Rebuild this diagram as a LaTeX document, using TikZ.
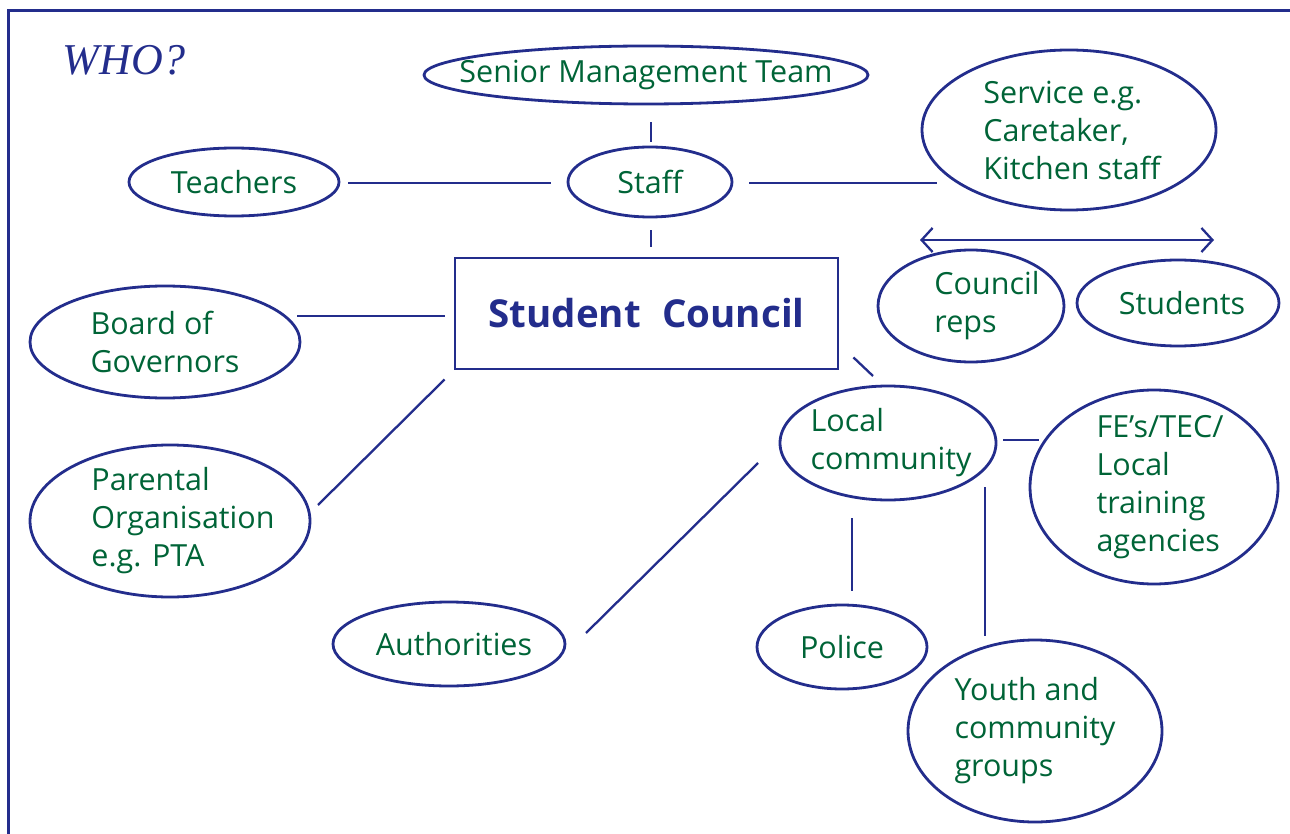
\documentclass[tikz,border=0pt]{standalone}
\usepackage{fontspec}
\setmainfont{Open Sans}
\newfontfamily\whofont{Liberation Serif}
\usetikzlibrary{shapes.geometric,calc,arrows.meta}
\definecolor{lineblue}{RGB}{35,45,140}
\definecolor{txtgreen}{RGB}{0,100,55}
\begin{document}
\begin{tikzpicture}[x=1pt,y=-1pt,
  ell/.style={ellipse,draw=lineblue,line width=2.8pt,inner sep=0pt},
  tx/.style={text=txtgreen,font=\fontsize{30.5}{38}\selectfont,align=left,inner sep=0pt},
  conn/.style={draw=lineblue,line width=2.3pt},
  barb/.tip={Straight Barb[length=11pt,width=24pt,line width=2.3pt]}]
\useasboundingbox (0,0) rectangle (1290,834);
\draw[lineblue,line width=3pt] (8,834) -- (8,11) -- (1290,11);
\node[text=lineblue,font=\whofont\itshape\fontsize{44}{50}\selectfont] (who) at (124,60) {WHO?};
% nodes
\node[ell,minimum width=444,minimum height=58,label={[tx]center:Senior Management Team}] (smt) at (646,75) {};
\node[ell,minimum width=164,minimum height=70,label={[tx]center:Staff}] (staff) at (650,182) {};
\node[ell,minimum width=210,minimum height=68,label={[tx]center:Teachers}] (teachers) at (234,182) {};
\node[ell,minimum width=294,minimum height=160,label={[tx,xshift=3pt]center:{Service e.g.\\Caretaker,\\Kitchen staff}}] (service) at (1069,130) {};
\node[draw=lineblue,line width=2.8pt,minimum width=383,minimum height=111,inner sep=0pt,
  text=lineblue,font=\bfseries\fontsize{38.5}{42}\selectfont] (council) at (646.5,313.5) {Student\hspace{0.3em} Council};
\node[ell,minimum width=270,minimum height=112,label={[tx]center:{Board of\\Governors}}] (board) at (165,342) {};
\node[ell,minimum width=186,minimum height=112,label={[tx,xshift=16pt]center:{Council\\reps}}] (reps) at (971,306) {};
\node[ell,minimum width=202,minimum height=86,label={[tx,xshift=4pt]center:Students}] (students) at (1178,303) {};
\node[ell,minimum width=216,minimum height=114,label={[tx,xshift=3pt]center:{Local\\community}}] (local) at (888,443) {};
\node[ell,minimum width=248,minimum height=194,label={[tx,xshift=6pt]center:{FE's/TEC/\\Local\\training\\agencies}}] (fe) at (1154,487) {};
\node[ell,minimum width=280,minimum height=152,label={[tx,xshift=13pt]center:{Parental\\Organisation\\e.g. PTA}}] (parental) at (170,521) {};
\node[ell,minimum width=232,minimum height=84,label={[tx,xshift=5pt]center:Authorities}] (authorities) at (449,644) {};
\node[ell,minimum width=170,minimum height=84,label={[tx]center:Police}] (police) at (842,647) {};
\node[ell,minimum width=254,minimum height=182,label={[tx]center:{Youth and\\community\\groups}}] (youth) at (1035,731) {};
% arrow
\coordinate (al) at (920,240);
\coordinate (ar) at (1214,240);
\draw[conn,{barb}-{barb}] (al) -- (ar);
% connectors
\draw[conn] ($(smt.south)+(5,17)$) -- ($(staff.north)+(1,-4)$);
\draw[conn] ($(staff.south)+(1,12)$) -- ($(council.north)+(4.5,-10)$);
\draw[conn] ($(teachers.east)+(8,1)$) -- ($(staff.west)+(-16,1)$);
\draw[conn] ($(staff.east)+(16,1)$) -- ($(service.center)+(-132,53)$);
\draw[conn] ($(board.east)+(-4,-26)$) -- ($(council.west)+(-9,2.5)$);
\draw[conn] ($(parental.center)+(148,-16)$) -- ($(council.south west)+(-9,9)$);
\draw[conn] ($(council.south east)+(14,-13)$) -- ($(local.center)+(-15,-67)$);
\draw[conn] ($(local.center)+(-130,20)$) -- ($(authorities.center)+(137,-11)$);
\draw[conn] ($(local.center)+(-36,75)$) -- ($(police.north)+(10,-13)$);
\draw[conn] ($(local.center)+(97,44)$) -- ($(youth.north)+(-50,-3)$);
\draw[conn] ($(local.east)+(6,-3)$) -- ($(fe.west)+(10,-47)$);
\end{tikzpicture}
\end{document}
